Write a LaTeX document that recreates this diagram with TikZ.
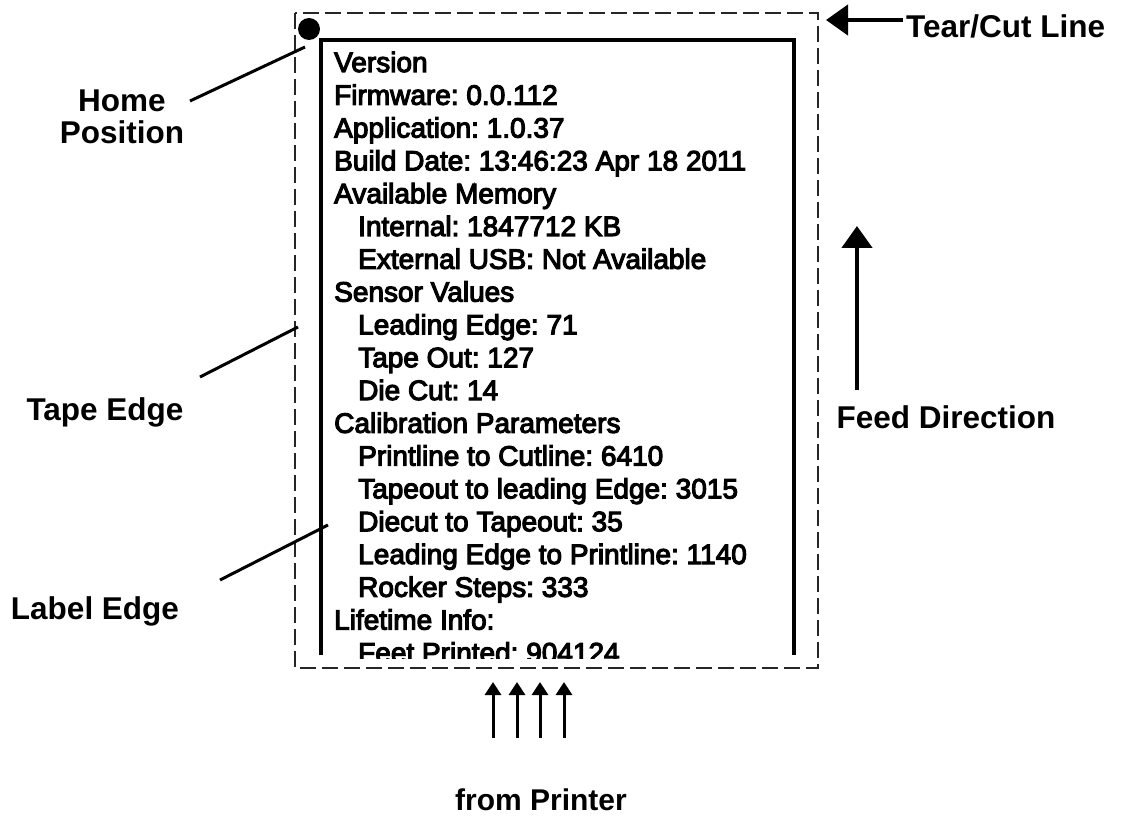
\documentclass[tikz,border=0pt]{standalone}
\usepackage{fontspec}
\setmainfont{Liberation Sans}
\newfontfamily\bodyfont[FakeBold=4]{Liberation Sans}
\usetikzlibrary{arrows.meta}
\frenchspacing
\tikzset{
  body/.style={anchor=base west, inner sep=0pt, font=\bodyfont\fontsize{28}{33}\selectfont},
  lab/.style={inner sep=0pt, font=\bfseries\fontsize{31.5}{32}\selectfont, align=center},
  pointer/.style={line width=3pt},
  bigarrow/.style={line width=4.5pt, -{Triangle[length=22pt,width=30pt]}},
  smallarrow/.style={line width=3pt, -{Triangle[length=13pt,width=16pt]}},
}
\begin{document}
\begin{tikzpicture}[x=1pt,y=-1pt]
\useasboundingbox (0,0) rectangle (1122,821);
% tear / cut dashed rectangle
\draw[line width=1.3pt, black!85, dash pattern=on 16pt off 6pt] (295,13) rectangle (818,668);
% inner label box (open at the bottom)
\draw[line width=3.5pt] (321,655) -- (321,40) -- (794,40) -- (794,655);
% home dot
\node[circle, fill=black, minimum size=22pt, inner sep=0pt] (dot) at (309,29) {};
% printed text
\begin{scope}
\clip (300,42) rectangle (790,658);
\node[body] (l1)  at (334,72.0)  {Version};
\node[body] (l2)  at (334,104.8) {Firmware: 0.0.112};
\node[body] (l3)  at (334,137.6) {Application: 1.0.37};
\node[body] (l4)  at (334,170.4) {Build Date: 13:46:23 Apr 18 2011};
\node[body] (l5)  at (334,203.2) {Available Memory};
\node[body] (l6)  at (358,236.0) {Internal: 1847712 KB};
\node[body] (l7)  at (358,268.8) {External USB: Not Available};
\node[body] (l8)  at (334,301.6) {Sensor Values};
\node[body] (l9)  at (358,334.4) {Leading Edge: 71};
\node[body] (l10) at (358,367.2) {Tape Out: 127};
\node[body] (l11) at (358,400.0) {Die Cut: 14};
\node[body] (l12) at (334,432.8) {Calibration Parameters};
\node[body] (l13) at (358,465.6) {Printline to Cutline: 6410};
\node[body] (l14) at (358,498.4) {Tapeout to leading Edge: 3015};
\node[body] (l15) at (358,531.2) {Diecut to Tapeout: 35};
\node[body] (l16) at (358,564.0) {Leading Edge to Printline: 1140};
\node[body] (l17) at (358,596.8) {Rocker Steps: 333};
\node[body] (l18) at (334,629.6) {Lifetime Info:};
\node[body] (l19) at (358,662.4) {Feet Printed: 904124};
\end{scope}
% labels
\node[lab] (home) at (122,117) {Home\\Position};
\node[lab] (tape) at (105,412) {Tape Edge};
\node[lab] (labe) at (95,611) {Label Edge};
\node[lab] (feed) at (946,417) {Feed Direction};
\node[lab, anchor=west] (tear) at (906,26) {Tear/Cut Line};
\node[lab, font=\bfseries\fontsize{30}{32}\selectfont] (printer) at (541,800) {from Printer};
% pointer lines
\coordinate (h1) at (190,101); \coordinate (h2) at (305,47);
\coordinate (t1) at (200,377); \coordinate (t2) at (298,327);
\coordinate (e1) at (220,580); \coordinate (e2) at (328,525);
\draw[pointer] (h1) -- (h2);
\draw[pointer] (t1) -- (t2);
\draw[pointer] (e1) -- (e2);
% arrows
\coordinate (f1) at (857,390); \coordinate (f2) at (857,226);
\draw[bigarrow] (f1) -- (f2);
\coordinate (c1) at (903,20); \coordinate (c2) at (826,20);
\draw[bigarrow] (c1) -- (c2);
\foreach \x/\n in {493/a,517/b,540/c,564/d}{
  \coordinate (p\n1) at (\x,738); \coordinate (p\n2) at (\x,682);
  \draw[smallarrow] (p\n1) -- (p\n2);
}
\end{tikzpicture}
\end{document}
